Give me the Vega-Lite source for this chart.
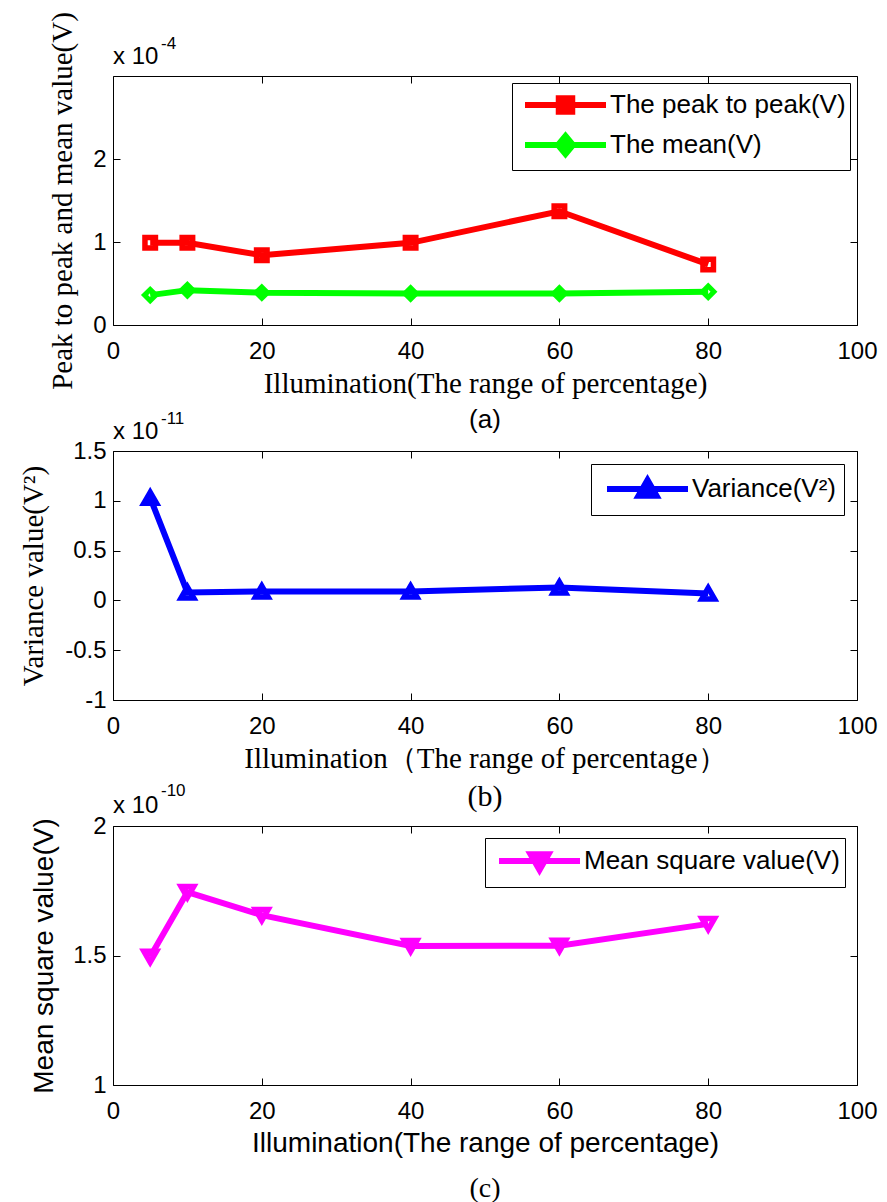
{
  "$schema": "https://vega.github.io/schema/vega-lite/v6.json",
  "background": "white",
  "padding": {"left": 18, "top": 11, "right": 0, "bottom": 0},
  "bounds": "flush",
  "spacing": 126,
  "datasets": {
    "a": [
      {"x": 5, "series": "The peak to peak(V)", "v": 0.99},
      {"x": 10, "series": "The peak to peak(V)", "v": 0.99},
      {"x": 20, "series": "The peak to peak(V)", "v": 0.84},
      {"x": 40, "series": "The peak to peak(V)", "v": 0.99},
      {"x": 60, "series": "The peak to peak(V)", "v": 1.37},
      {"x": 80, "series": "The peak to peak(V)", "v": 0.73},
      {"x": 5, "series": "The mean(V)", "v": 0.36},
      {"x": 10, "series": "The mean(V)", "v": 0.42},
      {"x": 20, "series": "The mean(V)", "v": 0.39},
      {"x": 40, "series": "The mean(V)", "v": 0.38},
      {"x": 60, "series": "The mean(V)", "v": 0.38},
      {"x": 80, "series": "The mean(V)", "v": 0.40}
    ],
    "b": [
      {"x": 5, "series": "Variance(V²)", "v": 1.03},
      {"x": 10, "series": "Variance(V²)", "v": 0.08},
      {"x": 20, "series": "Variance(V²)", "v": 0.09},
      {"x": 40, "series": "Variance(V²)", "v": 0.09},
      {"x": 60, "series": "Variance(V²)", "v": 0.13},
      {"x": 80, "series": "Variance(V²)", "v": 0.07}
    ],
    "c": [
      {"x": 5, "series": "Mean square value(V)", "v": 1.495},
      {"x": 10, "series": "Mean square value(V)", "v": 1.745},
      {"x": 20, "series": "Mean square value(V)", "v": 1.656},
      {"x": 40, "series": "Mean square value(V)", "v": 1.537},
      {"x": 60, "series": "Mean square value(V)", "v": 1.538},
      {"x": 80, "series": "Mean square value(V)", "v": 1.622}
    ]
  },
  "config": {
    "view": {"stroke": "black", "strokeWidth": 1},
    "axis": {"grid": false, "domain": false, "labelFlush": false, "tickColor": "black", "tickSize": -7, "tickWidth": 1, "labelFont": "Liberation Sans", "labelFontSize": 24, "labelColor": "black", "titleColor": "black", "titleFontWeight": "normal"}
  },
  "resolve": {
    "scale": {"color": "independent", "x": "independent", "y": "independent"},
    "legend": {"color": "independent"}
  },
  "vconcat": [
    {
      "width": 744, "height": 249,
      "title": {"text": "(a)", "orient": "bottom", "anchor": "middle", "font": "Liberation Sans", "fontSize": 26, "fontWeight": "normal", "color": "black", "baseline": "alphabetic", "offset": 30},
      "layer": [
        {
          "data": {"name": "a"},
          "mark": {"type": "line", "strokeWidth": 6},
          "encoding": {
            "x": {"field": "x", "type": "quantitative", "scale": {"domain": [0, 100], "nice": false, "zero": false},
              "axis": {"orient": "bottom", "values": [0, 20, 40, 60, 80, 100], "labelPadding": 21, "title": "Illumination(The range of percentage)", "titleFont": "Liberation Serif", "titleFontSize": 29, "titleX": 372, "titleY": 67, "titleAlign": "center", "titleBaseline": "alphabetic"}},
            "y": {"field": "v", "type": "quantitative", "scale": {"domain": [0, 3], "nice": false},
              "axis": {"orient": "left", "values": [0, 1, 2], "labelExpr": "format(datum.value, '~g')", "labelPadding": 14, "title": "Peak to peak and mean value(V)", "titleFont": "Liberation Serif", "titleFontSize": 29, "titleX": -42, "titleY": 124.5, "titleAlign": "center", "titleBaseline": "alphabetic", "titleAngle": -90}},
            "color": {"field": "series", "type": "nominal", "sort": null,
              "scale": {"domain": ["The peak to peak(V)", "The mean(V)"], "range": ["#ff0000", "#00ff00"]},
              "legend": {"orient": "top-right", "offset": 7, "title": null, "strokeColor": "black", "fillColor": "white", "padding": 4,
                "labelFont": "Liberation Sans", "labelFontSize": 26, "labelColor": "black", "labelOffset": 58, "labelLimit": 500,
                "symbolSize": 900, "symbolStrokeWidth": 6, "rowPadding": 0,
                "symbolType": "M-0.6,0H4.8M1.65,-0.45H2.55V0.45H1.65Z",
                "encode": {"symbols": {"update": {
                  "shape": {"signal": "datum.value === 'The mean(V)' ? 'M-0.6,0H4.8M2.1,-0.6L2.6,0L2.1,0.6L1.6,0Z' : 'M-0.6,0H4.8M1.65,-0.45H2.55V0.45H1.65Z'"},
                  "fill": {"signal": "datum.value === 'The mean(V)' ? '#00ff00' : '#ff0000'"},
                  "stroke": {"signal": "datum.value === 'The mean(V)' ? '#00ff00' : '#ff0000'"},
                  "opacity": {"value": 1}
                }}}}
            }
          }
        },
        {
          "data": {"name": "a"},
          "transform": [{"filter": "datum.series === 'The peak to peak(V)'"}],
          "mark": {"type": "point", "filled": false, "strokeWidth": 5.5, "size": 110, "opacity": 1, "shape": "square", "color": "#ff0000"},
          "encoding": {
            "x": {"field": "x", "type": "quantitative", "axis": {"orient": "top", "values": [0, 20, 40, 60, 80, 100], "labels": false, "title": null}},
            "y": {"field": "v", "type": "quantitative", "axis": {"orient": "right", "values": [0, 1, 2], "labels": false, "title": null}}
          }
        },
        {
          "data": {"name": "a"},
          "transform": [{"filter": "datum.series === 'The mean(V)'"}],
          "mark": {"type": "point", "filled": false, "strokeWidth": 5, "size": 130, "opacity": 1, "shape": "diamond", "color": "#00ff00"},
          "encoding": {
            "x": {"field": "x", "type": "quantitative", "axis": null},
            "y": {"field": "v", "type": "quantitative", "axis": null}
          }
        },
        {
          "data": {"values": [{"t": "x 10"}]},
          "mark": {"type": "text", "align": "left", "baseline": "alphabetic", "dy": -12, "font": "Liberation Sans", "fontSize": 24, "color": "black"},
          "encoding": {"x": {"datum": 0, "type": "quantitative", "axis": null}, "y": {"datum": 3, "type": "quantitative", "axis": null}, "text": {"field": "t"}}
        },
        {
          "data": {"values": [{"t": "-4"}]},
          "mark": {"type": "text", "align": "left", "baseline": "alphabetic", "dx": 48, "dy": -27, "font": "Liberation Sans", "fontSize": 17, "color": "black"},
          "encoding": {"x": {"datum": 0, "type": "quantitative", "axis": null}, "y": {"datum": 3, "type": "quantitative", "axis": null}, "text": {"field": "t"}}
        }
      ],
      "resolve": {"axis": {"x": "independent", "y": "independent"}}
    },
    {
      "width": 744, "height": 249,
      "title": {"text": "(b)", "orient": "bottom", "anchor": "middle", "font": "Liberation Serif", "fontSize": 30, "fontWeight": "normal", "color": "black", "baseline": "alphabetic", "offset": 33},
      "layer": [
        {
          "data": {"name": "b"},
          "mark": {"type": "line", "strokeWidth": 6},
          "encoding": {
            "x": {"field": "x", "type": "quantitative", "scale": {"domain": [0, 100], "nice": false, "zero": false},
              "axis": {"orient": "bottom", "values": [0, 20, 40, 60, 80, 100], "labelPadding": 21, "title": "Illumination（The range of percentage）", "titleFont": "Liberation Serif", "titleFontSize": 29, "titleX": 372, "titleY": 67, "titleAlign": "center", "titleBaseline": "alphabetic"}},
            "y": {"field": "v", "type": "quantitative", "scale": {"domain": [-1, 1.5], "nice": false, "zero": false},
              "axis": {"orient": "left", "values": [-1, -0.5, 0, 0.5, 1, 1.5], "labelExpr": "datum.value < 0 ? '-' + format(-datum.value, '~g') : format(datum.value, '~g')", "labelPadding": 14, "title": "Variance value(V²)", "titleFont": "Liberation Serif", "titleFontSize": 29, "titleX": -70.5, "titleY": 124.5, "titleAlign": "center", "titleBaseline": "alphabetic", "titleAngle": -90}},
            "color": {"field": "series", "type": "nominal",
              "scale": {"domain": ["Variance(V²)"], "range": ["#0000ff"]},
              "legend": {"orient": "top-right", "offset": 13, "title": null, "strokeColor": "black", "fillColor": "white", "padding": 7,
                "labelFont": "Liberation Sans", "labelFontSize": 26, "labelColor": "black", "labelOffset": 58, "labelLimit": 500,
                "symbolSize": 900, "symbolStrokeWidth": 6, "rowPadding": 0,
                "symbolType": "M-0.6,0H4.8M2.1,-0.6L2.7,0.45H1.5Z",
                "encode": {"symbols": {"update": {
                  "fill": {"value": "#0000ff"}, "stroke": {"value": "#0000ff"}, "opacity": {"value": 1}
                }}}}
            }
          }
        },
        {
          "data": {"name": "b"},
          "mark": {"type": "point", "filled": false, "strokeWidth": 5.5, "size": 160, "opacity": 1, "shape": "triangle-up", "color": "#0000ff"},
          "encoding": {
            "x": {"field": "x", "type": "quantitative", "axis": {"orient": "top", "values": [0, 20, 40, 60, 80, 100], "labels": false, "title": null}},
            "y": {"field": "v", "type": "quantitative", "axis": {"orient": "right", "values": [-1, -0.5, 0, 0.5, 1, 1.5], "labels": false, "title": null}}
          }
        },
        {
          "data": {"values": [{"t": "x 10"}]},
          "mark": {"type": "text", "align": "left", "baseline": "alphabetic", "dy": -12, "font": "Liberation Sans", "fontSize": 24, "color": "black"},
          "encoding": {"x": {"datum": 0, "type": "quantitative", "axis": null}, "y": {"datum": 1.5, "type": "quantitative", "axis": null}, "text": {"field": "t"}}
        },
        {
          "data": {"values": [{"t": "-11"}]},
          "mark": {"type": "text", "align": "left", "baseline": "alphabetic", "dx": 48, "dy": -27, "font": "Liberation Sans", "fontSize": 17, "color": "black"},
          "encoding": {"x": {"datum": 0, "type": "quantitative", "axis": null}, "y": {"datum": 1.5, "type": "quantitative", "axis": null}, "text": {"field": "t"}}
        }
      ],
      "resolve": {"axis": {"x": "independent", "y": "independent"}}
    },
    {
      "width": 744, "height": 259,
      "title": {"text": "(c)", "orient": "bottom", "anchor": "middle", "font": "Liberation Serif", "fontSize": 28, "fontWeight": "normal", "color": "black", "baseline": "alphabetic", "offset": 40},
      "layer": [
        {
          "data": {"name": "c"},
          "mark": {"type": "line", "strokeWidth": 6},
          "encoding": {
            "x": {"field": "x", "type": "quantitative", "scale": {"domain": [0, 100], "nice": false, "zero": false},
              "axis": {"orient": "bottom", "values": [0, 20, 40, 60, 80, 100], "labelPadding": 21, "title": "Illumination(The range of percentage)", "titleFont": "Liberation Sans", "titleFontSize": 28, "titleX": 372, "titleY": 66, "titleAlign": "center", "titleBaseline": "alphabetic"}},
            "y": {"field": "v", "type": "quantitative", "scale": {"domain": [1, 2], "nice": false, "zero": false},
              "axis": {"orient": "left", "values": [1, 1.5, 2], "labelExpr": "format(datum.value, '~g')", "labelPadding": 14, "title": "Mean square value(V)", "titleFont": "Liberation Sans", "titleFontSize": 28, "titleX": -60.7, "titleY": 129.5, "titleAlign": "center", "titleBaseline": "alphabetic", "titleAngle": -90}},
            "color": {"field": "series", "type": "nominal",
              "scale": {"domain": ["Mean square value(V)"], "range": ["#ff00ff"]},
              "legend": {"orient": "top-right", "offset": 12, "title": null, "strokeColor": "black", "fillColor": "white", "padding": 5,
                "labelFont": "Liberation Sans", "labelFontSize": 26, "labelColor": "black", "labelOffset": 58, "labelLimit": 500,
                "symbolSize": 900, "symbolStrokeWidth": 6, "rowPadding": 0,
                "symbolType": "M-0.6,0H4.8M2.1,0.6L2.7,-0.45H1.5Z",
                "encode": {"symbols": {"update": {
                  "fill": {"value": "#ff00ff"}, "stroke": {"value": "#ff00ff"}, "opacity": {"value": 1}
                }}}}
            }
          }
        },
        {
          "data": {"name": "c"},
          "mark": {"type": "point", "filled": false, "strokeWidth": 5.5, "size": 160, "opacity": 1, "shape": "triangle-down", "color": "#ff00ff"},
          "encoding": {
            "x": {"field": "x", "type": "quantitative", "axis": {"orient": "top", "values": [0, 20, 40, 60, 80, 100], "labels": false, "title": null}},
            "y": {"field": "v", "type": "quantitative", "axis": {"orient": "right", "values": [1, 1.5, 2], "labels": false, "title": null}}
          }
        },
        {
          "data": {"values": [{"t": "x 10"}]},
          "mark": {"type": "text", "align": "left", "baseline": "alphabetic", "dy": -13, "font": "Liberation Sans", "fontSize": 24, "color": "black"},
          "encoding": {"x": {"datum": 0, "type": "quantitative", "axis": null}, "y": {"datum": 2, "type": "quantitative", "axis": null}, "text": {"field": "t"}}
        },
        {
          "data": {"values": [{"t": "-10"}]},
          "mark": {"type": "text", "align": "left", "baseline": "alphabetic", "dx": 48, "dy": -30, "font": "Liberation Sans", "fontSize": 17, "color": "black"},
          "encoding": {"x": {"datum": 0, "type": "quantitative", "axis": null}, "y": {"datum": 2, "type": "quantitative", "axis": null}, "text": {"field": "t"}}
        }
      ],
      "resolve": {"axis": {"x": "independent", "y": "independent"}}
    }
  ]
}
